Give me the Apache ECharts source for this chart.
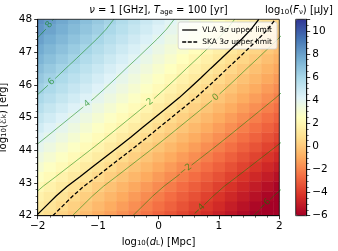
<!DOCTYPE html>
<html><head><meta charset="utf-8">
<script src="https://cdn.jsdelivr.net/npm/echarts@6/dist/echarts.min.js"></script>
<style>html,body{margin:0;padding:0;background:#fff}#c{width:338px;height:251px}</style>
</head><body><div id="c"></div>
<script>
// ---- data ----
const logDist = [-2,-1.8,-1.6,-1.4,-1.2,-1,-0.8,-0.6,-0.4,-0.2,0,0.2,0.4,0.6,0.8,1,1.2,1.4,1.6,1.8,2];
const distDimming = [0,-0.4,-0.8,-1.2,-1.6,-2,-2.4,-2.8,-3.2,-3.6,-4,-4.4,-4.8,-5.2,-5.6,-6,-6.4,-6.8,-7.2,-7.6,-8];
const logEnergy = [42,42.3,42.6,42.9,43.2,43.5,43.8,44.1,44.4,44.7,45,45.3,45.6,45.9,46.2,46.5,46.8,47.1,47.4,47.7,48];
// log10(F_nu / uJy) along the left edge (log10 d_L = -2)
const fluxAtMinDist = [1.15,1.48,1.81,2.18,2.61,3.03,3.45,3.87,4.28,4.68,5.08,5.48,5.88,6.24,6.59,6.93,7.28,7.62,7.96,8.27,8.52];
const contourLevels = [-6,-4,-2,0,2,4,6,8];
const vlaLimit = 1.2;   // log10 uJy
const skaLimit = 0.65;  // log10 uJy
const xTicks = [-2,-1,0,1,2];
const yTicks = [42,43,44,45,46,47,48];
const cbTicks = [-6,-4,-2,0,2,4,6,8,10];
const cbMin = -6, cbMax = 11;
const vlaName = 'VLA 3σ upper limit', skaName = 'SKA 3σ upper limit';

// ---- layout / style ----
const labelAt = {'8':-1.81,'6':-1.77,'4':-1.18,'2':-0.14,'0':0.95,'-2':0.45,'-4':0.67,'-6':1.76};
const FONT = 'DejaVu Sans';
const RdYlBu = ['#a50026','#d73027','#f46d43','#fdae61','#fee090','#ffffbf','#e0f3f8','#abd9e9','#74add1','#4575b4','#313695'];
const G = {left:37.7, top:19.3, width:241.6, height:196.4};
const CB = {left:295.7, top:19.3, width:11, height:196.4};
const fmt = v => (v < 0 ? '\u2212' + Math.abs(v) : String(v));

const cells = [];
logDist.forEach((x,i)=>logEnergy.forEach((y,j)=>{
  const v = fluxAtMinDist[j] + distDimming[i];
  cells.push([x, y, v, Math.max(cbMin, Math.min(cbMax, v))]);
}));
const hx = (logDist[1]-logDist[0])/2, hy = (logEnergy[1]-logEnergy[0])/2;

const chart = echarts.init(document.getElementById('c'));
const axisCommon = {
  axisLine:{onZero:false, lineStyle:{color:'#000', width:0.8}},
  axisTick:{length:3.5, lineStyle:{color:'#000', width:0.8}},
  minorTick:{show:true, length:2, lineStyle:{color:'#000', width:0.6}},
  splitLine:{show:false}, minorSplitLine:{show:false}, z:10
};
const tickLabel = {fontSize:10.5, color:'#000', margin:5.5, formatter:fmt, fontFamily:FONT};
const subRich = {s:{fontSize:7, verticalAlign:'bottom', fontFamily:FONT, color:'#000'}, i:{fontSize:10, fontStyle:'italic', fontFamily:FONT, color:'#000'}, n:{fontSize:10, fontFamily:FONT, color:'#000'}};

const heatSeries = {
  type:'custom', xAxisIndex:0, yAxisIndex:0, encode:{x:0, y:1}, data:cells, silent:true, clip:true, z:1,
  renderItem:(params, api)=>{
    const x = api.value(0), y = api.value(1);
    const p0 = api.coord([x-hx, y+hy]), p1 = api.coord([x+hx, y-hy]);
    const cs = params.coordSys;
    const r = echarts.graphic.clipRectByRect(
      {x:p0[0], y:p0[1], width:p1[0]-p0[0]+0.5, height:p1[1]-p0[1]+0.5},
      {x:cs.x, y:cs.y, width:cs.width, height:cs.height});
    return r && {type:'rect', shape:r, style:{fill:api.visual('color')}};
  }
};

const gridCommon = {containLabel:false, outerBoundsMode:'none'};
chart.setOption({
  animation:false,
  textStyle:{fontFamily:FONT},
  grid:[Object.assign({}, G, gridCommon), Object.assign({}, CB, gridCommon)],
  xAxis:[
    Object.assign({gridIndex:0, type:'value', min:xTicks[0], max:xTicks[xTicks.length-1], interval:1,
      axisLabel:tickLabel,
      name:'log{s|10}({i|d}{s|L}) [Mpc]', nameLocation:'middle', nameGap:18,
      nameTextStyle:{fontSize:10, color:'#000', rich:subRich}}, axisCommon, {minorTick:Object.assign({}, axisCommon.minorTick, {splitNumber:5})}),
    {gridIndex:1, type:'value', min:0, max:1, show:false}
  ],
  yAxis:[
    Object.assign({gridIndex:0, type:'value', min:yTicks[0], max:yTicks[yTicks.length-1], interval:1,
      axisLabel:tickLabel,
      name:'log{s|10}({i|ℰ}{s|k}) [erg]', nameLocation:'middle', nameGap:24,
      nameTextStyle:{fontSize:10, color:'#000', rich:subRich}}, axisCommon, {minorTick:Object.assign({}, axisCommon.minorTick, {splitNumber:5})}),
    Object.assign({gridIndex:1, type:'value', min:cbMin, max:cbMax, interval:2, position:'right',
      axisLabel:Object.assign({}, tickLabel, {showMaxLabel:false})}, axisCommon, {minorTick:Object.assign({}, axisCommon.minorTick, {splitNumber:4})})
  ],
  visualMap:{type:'continuous', min:cbMin, max:cbMax, dimension:3, seriesIndex:0, show:true, calculable:false,
    left:CB.left, top:CB.top, itemWidth:CB.width, itemHeight:CB.height, padding:0, text:null, hoverLink:false,
    inRange:{color:RdYlBu}},
  series:[heatSeries]
});

function toPx(p){ return chart.convertToPixel({gridIndex:0}, p); }

function contourPts(level){
  const n = logDist.length, pts = [];
  for (let j=0;j<logEnergy.length;j++){
    const t = level - fluxAtMinDist[j];
    let x;
    if (t >= distDimming[0]) { const s=(distDimming[1]-distDimming[0])/(logDist[1]-logDist[0]); x = logDist[0]+(t-distDimming[0])/s; }
    else if (t <= distDimming[n-1]) { const s=(distDimming[n-1]-distDimming[n-2])/(logDist[n-1]-logDist[n-2]); x = logDist[n-1]+(t-distDimming[n-1])/s; }
    else { for (let i=0;i<n-1;i++){ if (t<=distDimming[i] && t>=distDimming[i+1]) { const u=(t-distDimming[i])/(distDimming[i+1]-distDimming[i]); x = logDist[i]+u*(logDist[i+1]-logDist[i]); break; } } }
    pts.push([x, logEnergy[j]]);
  }
  return pts;
}

function splitAtLabel(pts, lx, gap){
  const px = pts.map(toPx);
  const s=[0];
  for (let i=1;i<px.length;i++) s.push(s[i-1]+Math.hypot(px[i][0]-px[i-1][0], px[i][1]-px[i-1][1]));
  let s0 = 0;
  for (let i=0;i<pts.length-1;i++){ const a=pts[i][0], b=pts[i+1][0]; if ((a-lx)*(b-lx)<=0 && a!==b){ s0 = s[i]+(lx-a)/(b-a)*(s[i+1]-s[i]); break; } }
  const at = sv => { for (let i=0;i<s.length-1;i++){ if (sv>=s[i] && sv<=s[i+1]) { const u=(sv-s[i])/((s[i+1]-s[i])||1); return [pts[i][0]+u*(pts[i+1][0]-pts[i][0]), pts[i][1]+u*(pts[i+1][1]-pts[i][1])]; } } return pts[pts.length-1]; };
  const lo = s0-gap/2, hi = s0+gap/2;
  const a=[], b=[];
  for (let i=0;i<pts.length;i++){ if (s[i]<lo) a.push(pts[i]); }
  a.push(at(lo)); b.push(at(hi));
  for (let i=0;i<pts.length;i++){ if (s[i]>hi) b.push(pts[i]); }
  const c = at(s0), q1 = toPx(at(s0-4)), q2 = toPx(at(s0+4));
  const ang = Math.atan2(-(q2[1]-q1[1]), q2[0]-q1[0]);
  return {a, b, c, ang};
}

const cStyle = {color:'rgba(0,128,0,0.5)', width:1};
const series = [heatSeries];
const labelData = [], labelText = [];
contourLevels.forEach(lv=>{
  const txt = fmt(lv);
  const r = splitAtLabel(contourPts(lv), labelAt[String(lv)], txt.length>1 ? 15 : 10);
  [r.a, r.b].forEach(seg=>series.push({type:'line', xAxisIndex:0, yAxisIndex:0, data:seg, symbol:'none', silent:true, clip:true, lineStyle:cStyle, z:3}));
  labelData.push([r.c[0], r.c[1], r.ang]); labelText.push(txt);
});
series.push({type:'line', name:vlaName, data:contourPts(vlaLimit), symbol:'none', silent:true, clip:true, itemStyle:{color:'#000'}, lineStyle:{color:'#000', width:1.3}, z:4});
series.push({type:'line', name:skaName, data:contourPts(skaLimit), symbol:'none', silent:true, clip:true, itemStyle:{color:'#000'}, lineStyle:{color:'#000', width:1.3, type:[4,2.2]}, z:4});
series.push({type:'custom', xAxisIndex:0, yAxisIndex:0, encode:{x:0,y:1}, data:labelData, silent:true, clip:false, z:5,
  renderItem:(params, api)=>{
    const p = api.coord([api.value(0), api.value(1)]);
    return {type:'text', x:p[0], y:p[1], rotation:api.value(2),
      style:{text:labelText[params.dataIndex], fill:'rgba(0,128,0,0.6)', font:'9px "DejaVu Sans"', align:'center', verticalAlign:'middle'}};
  }});

const solidIcon = 'path://M0,0L15,0L15,1.3L0,1.3Z';
const dashIcon = 'path://M0,0L4,0L4,1.3L0,1.3Z M5.6,0L9.6,0L9.6,1.3L5.6,1.3Z M11.2,0L15,0L15,1.3L11.2,1.3Z';
const legendRich = {n:{fontSize:7.5, fontFamily:FONT, color:'#000'}, i:{fontSize:7.5, fontStyle:'italic', fontFamily:FONT, color:'#000'}};
chart.setOption({
  series,
  legend:{data:[{name:vlaName, icon:solidIcon}, {name:skaName, icon:dashIcon}], orient:'vertical', right:61, top:22,
    itemWidth:15, itemHeight:1.3, itemGap:4,
    padding:[4,5,3,4], backgroundColor:'rgba(255,255,255,0.8)', borderColor:'#ccc', borderWidth:0.8, borderRadius:2,
    selectedMode:false, itemStyle:{color:'#000', borderWidth:0},
    formatter: nm => { const k = nm.indexOf('σ'); return '{n|' + nm.slice(0,k) + '}{i|σ}{n|' + nm.slice(k+1) + '}'; },
    textStyle:{fontSize:7.5, color:'#000', fontFamily:FONT, rich:legendRich}},
  graphic:[
    {type:'rect', z:100, silent:true, shape:{x:G.left, y:G.top, width:G.width, height:G.height}, style:{fill:'none', stroke:'#000', lineWidth:0.8}},
    {type:'rect', z:100, silent:true, shape:{x:CB.left, y:CB.top, width:CB.width, height:CB.height}, style:{fill:'none', stroke:'#000', lineWidth:0.8}},
    {type:'text', z:100, x:G.left+G.width/2, y:10.5, style:{text:'{i|ν}{n| = 1 [GHz], }{i|T}{s|age}{n| = 100 [yr]}', align:'center', verticalAlign:'middle', rich:subRich}},
    {type:'text', z:100, x:299, y:10.5, style:{text:'{n|log}{s|10}{n|(}{i|F}{s|ν}{n|) [μJy]}', align:'center', verticalAlign:'middle', rich:subRich}}
  ]
});
</script>
</body></html>
